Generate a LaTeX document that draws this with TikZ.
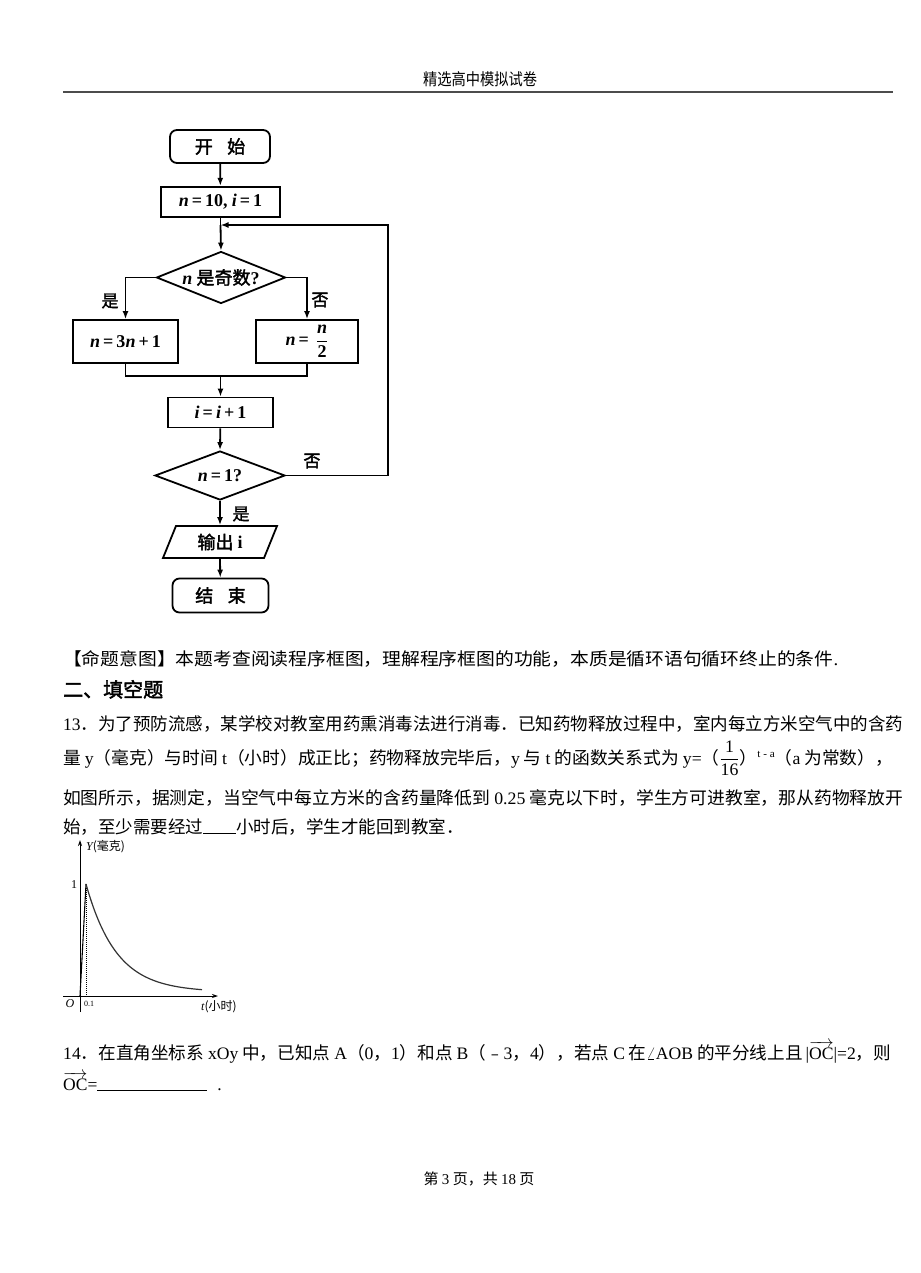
\documentclass[tikz,border=0pt]{standalone}
\usepackage{amsmath}
\usepackage{graphicx}
\usepackage{fontspec}
\usetikzlibrary{shapes.geometric,arrows.meta}
\setmainfont{Noto Sans CJK SC}
\newfontfamily\tm{Liberation Serif}
\newfontfamily\cjkb{Noto Sans CJK SC}[FakeBold=2]
\newcommand\fsz[1]{\fontsize{#1}{#1}\selectfont}
\newcommand\vb[1]{{\tm\bfseries\itshape #1}}
\newcommand\db[1]{{\tm\bfseries #1}}
\newcommand\eq{\db{\,=\,}}
\newsavebox\fitbox
\newcommand\fitw[2]{\sbox\fitbox{#2}\pgfmathsetmacro\fsx{#1/\wd\fitbox}\scalebox{\fsx}[1]{\usebox\fitbox}}
\tikzset{
  fl/.style={line width=1.8pt},
  arr/.style={line width=1.8pt,-{Latex[length=8pt,width=6pt]}},
  fbox/.style={draw,line width=1.8pt,rectangle,inner sep=0pt,font=\fsz{18}\cjkb},
  fdia/.style={draw,line width=1.8pt,diamond,aspect=2.6,inner sep=0pt,font=\fsz{18}\cjkb},
  flab/.style={inner sep=0pt,font=\fsz{17}\cjkb},
  txt/.style={anchor=base west,inner sep=0pt,font=\fsz{17.5}},
  small/.style={inner sep=0pt,font=\fsz{12}},
}
\begin{document}
\begin{tikzpicture}[x=1pt,y=-1pt]
\useasboundingbox (0,0) rectangle (920,1273);
\fill[white] (0,0) rectangle (920,1273);
% header
\node[anchor=base,inner sep=0pt,font=\fsz{15}] (hdr) at (480,86) {\scalebox{0.95}[1.1]{精选高中模拟试卷}};
\draw[line width=2pt,black!70] (63,92) -- (893,92);
% flowchart
\node[fbox,rounded corners=7pt,minimum width=100,minimum height=33] (start) at (220,146.5) {开\hspace{0.8em}始};
\node[fbox,minimum width=119,minimum height=30] (init) at (220.5,201.7) {\vb{n}\eq\db{10,} \vb{i}\eq\db{1}};
\node[fdia,minimum width=129,minimum height=52] (d1) at (221,277.5) {\makebox[0pt]{\vb{n} 是奇数\db{?}}};
\node[fbox,minimum width=105,minimum height=43] (L) at (125.5,341.5) {\vb{n}\eq\db{3}\vb{n}\db{\,+\,1}};
\node[fbox,minimum width=102,minimum height=43] (R) at (307,341.5) {\vb{n}\eq\ $\dfrac{\hbox{\vb{n}}}{\hbox{\db{2}}}$};
\node[fbox,minimum width=105,minimum height=30] (inc) at (220.5,412.5) {\vb{i}\eq\vb{i}\db{\,+\,1}};
\node[fdia,minimum width=130,minimum height=49] (d2) at (220,475.5) {\makebox[0pt]{\vb{n}\eq\db{1?}}};
\node[draw,line width=1.8pt,trapezium,trapezium left angle=52,trapezium right angle=128,trapezium stretches body,minimum width=114,minimum height=32,inner sep=0pt,font=\fsz{18}\cjkb] (out) at (220,542) {\makebox[0pt]{输出 \db{i}}};
\node[fbox,rounded corners=7pt,minimum width=96,minimum height=34] (stop) at (220.5,595.5) {结\hspace{0.8em}束};
\coordinate (j) at (220.5,225);
\coordinate (c1) at (388,225);
\coordinate (m) at (220.5,376);
\draw[arr] (start) -- (init);
\draw[fl] (init) -- (j);
\draw[arr] (j) -- (d1.north);
\draw[arr] (d1.west) -| (L.north);
\draw[arr] (d1.east) -| (R.north);
\draw[fl] (L.south) |- (m) -| (R.south);
\draw[arr] (m) -- (inc);
\draw[arr] (inc) -- (d2.north);
\draw[arr] (d2.south) -- (out.north);
\draw[arr] (out.south) -- (stop);
\draw[arr] (d2.east) -| (c1) -- (j);
\node[flab] (yes1) at (110,301) {是};
\node[flab] (no1) at (320,300) {否};
\node[flab] (no2) at (312,461) {否};
\node[flab] (yes2) at (241,514) {是};
% text
\node[txt] (l0) at (63,665) {\fitw{775}{【命题意图】本题考查阅读程序框图，理解程序框图的功能，本质是循环语句循环终止的条件{\tm .}}};
\node[txt,font=\fsz{20}\cjkb] (sec) at (63,697) {二、填空题};
\node[txt] (q1) at (63,730) {\fitw{840}{{\tm 13}．为了预防流感，某学校对教室用药熏消毒法进行消毒．已知药物释放过程中，室内每立方米空气中的含药}};
\node[txt] (q2) at (63,764) {\fitw{830}{量 {\tm y}（毫克）与时间 {\tm t}（小时）成正比；药物释放完毕后，{\tm y} 与 {\tm t} 的函数关系式为 {\tm y=}（$\dfrac{\hbox{\tm 1}}{\hbox{\tm 16}}$）\raisebox{7pt}{\fsz{11}\tm t - a}（{\tm a} 为常数），}};
\node[txt] (q3) at (63,804) {\fitw{840}{如图所示，据测定，当空气中每立方米的含药量降低到 {\tm 0.25} 毫克以下时，学生方可进教室，那从药物释放开}};
\node[txt] (q4) at (63,833) {始，至少需要经过\rule[-1pt]{33pt}{0.8pt}小时后，学生才能回到教室．};
% graph
\draw[line width=0.9pt,-{Stealth[length=6pt,width=4pt]}] (80,1012) -- (80,840);
\draw[line width=0.9pt,-{Stealth[length=6pt,width=4pt]}] (63,996) -- (218,996);
\draw[line width=1.1pt] (80,996) -- (86,884);
\draw[line width=1pt,densely dotted] (86,884) -- (86,996);
\draw[line width=1.2pt,black!80] plot[domain=86:202,samples=80] (\x,{992-108*exp(-0.033*(\x-86))});
\node[small,anchor=west] (ylab) at (86,847) {{\tm\itshape Y}(毫克)};
\node[small,font=\fsz{12}] (one) at (74,885) {\tm 1};
\node[small,font=\fsz{12}] (orig) at (70,1004) {\tm\itshape O};
\node[small,font=\fsz{8}] (tick) at (89,1004) {\tm 0.1};
\node[small,anchor=west] (xlab) at (201,1007) {{\tm\itshape t}(小时)};
% question 14
\node[txt] (p1) at (63,1059) {\fitw{828}{{\tm 14}．在直角坐标系 {\tm xOy} 中，已知点 {\tm A}（{\tm 0}，{\tm 1}）和点 {\tm B}（﹣{\tm 3}，{\tm 4}），若点 {\tm C} 在$\angle${\tm AOB} 的平分线上且\,{\tm |}$\overrightarrow{\hbox{\tm OC}}${\tm |=2}，则}};
\node[txt] (p2) at (63,1090) {$\overrightarrow{\hbox{\tm OC}}${\tm =}\rule[-1pt]{110pt}{0.8pt}\hspace{10pt}{\tm .}};
% footer
\node[anchor=base,inner sep=0pt,font=\fsz{15}] (ftr) at (479,1184) {第 {\tm 3} 页，共 {\tm 18} 页};
\end{tikzpicture}
\end{document}
